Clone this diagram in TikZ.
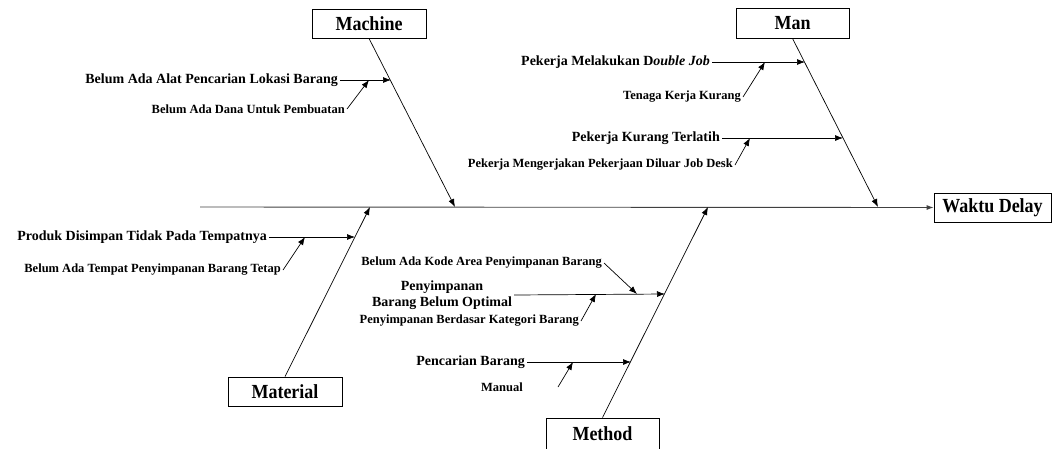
\documentclass[tikz,border=0pt]{standalone}
\usepackage{fontspec}
\setmainfont{Liberation Serif}
\newfontfamily\boxfont[FakeStretch=0.9]{Liberation Serif}
\usetikzlibrary{arrows.meta}
\tikzset{
  box/.style={draw, line width=0.8pt, minimum width=114pt, minimum height=29pt, inner sep=0pt, font=\boxfont\fontsize{20}{22}\selectfont\bfseries},
  big/.style={font=\fontsize{14}{16}\selectfont\bfseries, inner sep=2pt, anchor=east},
  small/.style={font=\fontsize{12.5}{14}\selectfont\bfseries, inner sep=2pt, anchor=east},
  arr/.style={-{Latex[length=8pt,width=6pt]}, line width=0.7pt},
  spine/.style={-{Latex[length=7pt,width=5pt]}, line width=0.9pt, draw=black!75}
}
\begin{document}
\begin{tikzpicture}[x=1pt,y=-1pt]
\useasboundingbox (0,0) rectangle (1055,448);
% boxes
\node[box, minimum width=117pt] (effect) at (992.5,207.5) {Waktu Delay};
\node[box] (machine) at (369,23.5) {Machine};
\node[box, minimum width=113pt, minimum height=30pt] (man) at (792.5,23) {Man};
\node[box] (material) at (285,391.5) {Material};
\node[box, minimum width=113pt, minimum height=32pt] (method) at (602.5,434) {Method};
% spine
\coordinate (spinestart) at (200,207);
\draw[spine] (spinestart) -- (effect.west);
% bone tips on spine
\coordinate (mtip) at (455,207);
\coordinate (ntip) at (878,207);
\coordinate (atip) at (370,207);
\coordinate (dtip) at (708,207);
\draw[arr] (machine.south) -- (mtip);
\draw[arr] (man.south) -- (ntip);
\draw[arr] (material.north) -- (atip);
\draw[arr] (method.north) -- (dtip);
% Machine causes
\node[big] (m1) at (340,80) {Belum Ada Alat Pencarian Lokasi Barang};
\coordinate (m1t) at (391,80);
\draw[arr] (m1.east) -- (m1t);
\node[small] (m2) at (347,109) {Belum Ada Dana Untuk Pembuatan};
\coordinate (m2t) at (369,80);
\draw[arr] (m2.east) -- (m2t);
% Man causes
\node[big] (n1) at (712,62) {Pekerja Melakukan D\textit{ouble Job}};
\coordinate (n1t) at (805,62);
\draw[arr] (n1.east) -- (n1t);
\node[small] (n2) at (743,97) {Tenaga Kerja Kurang};
\coordinate (n2t) at (765,62);
\draw[arr] (n2.east) -- (n2t);
\node[big] (n3) at (722,138) {Pekerja Kurang Terlatih};
\coordinate (n3t) at (843,138);
\draw[arr] (n3.east) -- (n3t);
\node[small] (n4) at (735,165) {Pekerja Mengerjakan Pekerjaan Diluar Job Desk};
\coordinate (n4t) at (750,138);
\draw[arr] (n4.east) -- (n4t);
% Material causes
\node[big] (a1) at (269,237) {Produk Disimpan Tidak Pada Tempatnya};
\coordinate (a1t) at (355,237);
\draw[arr] (a1.east) -- (a1t);
\node[small] (a2) at (283,270) {Belum Ada Tempat Penyimpanan Barang Tetap};
\coordinate (a2t) at (305,237);
\draw[arr] (a2.east) -- (a2t);
% Method causes
\node[big, anchor=center, align=center] (d1) at (442,295) {Penyimpanan\\Barang Belum Optimal};
\coordinate (d1t) at (665,294);
\draw[arr] (d1.east) -- (d1t);
\node[small] (d2) at (604,263) {Belum Ada Kode Area Penyimpanan Barang};
\coordinate (d2t) at (637,294);
\draw[arr] (d2.east) -- (d2t);
\node[small] (d3) at (581,321) {Penyimpanan Berdasar Kategori Barang};
\coordinate (d3t) at (596,294);
\draw[arr] (d3.east) -- (d3t);
\node[big] (d4) at (527,362) {Pencarian Barang};
\coordinate (d4t) at (631,362);
\draw[arr] (d4.east) -- (d4t);
\node[small, anchor=center] (d5) at (502,387) {Manual};
\coordinate (d5s) at (558,387);
\coordinate (d5t) at (573,362);
\draw[arr] (d5s) -- (d5t);
\end{tikzpicture}
\end{document}
